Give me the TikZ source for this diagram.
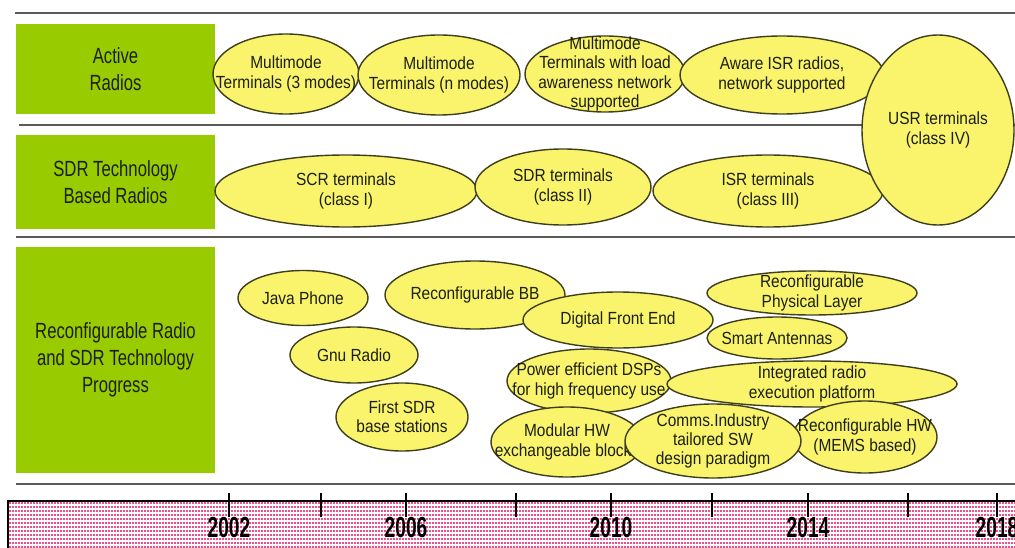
\documentclass[tikz,border=0pt]{standalone}
\usepackage{fontspec}
\setmainfont{Liberation Sans}[FakeStretch=0.88]
\newfontfamily\lanefont{Liberation Sans}[FakeStretch=0.76]
\newfontfamily\yearfont{Liberation Sans}[FakeStretch=0.66]
\usetikzlibrary{shapes.geometric}
\definecolor{rdgreen}{HTML}{99CC00}
\definecolor{rdyellow}{HTML}{F9F46B}
\definecolor{rdedge}{HTML}{3F3F1E}
\definecolor{rdgray}{HTML}{5A5A5A}
\definecolor{rdpink}{HTML}{F04E88}
\definecolor{rdtext}{HTML}{1C1F14}

\begin{document}
\begin{tikzpicture}[
  x=0.2mm, y=-0.2mm,
  lane/.style={rectangle, fill=rdgreen, minimum width=3.98cm, inner sep=0pt,
               align=center, text=rdtext, font=\lanefont\fontsize{12.5}{15.5}\selectfont},
  phase/.style={ellipse, draw=rdedge, line width=0.8pt, fill=rdyellow, inner sep=0pt},
  phasetext/.style={inner sep=0pt, align=center, text=rdtext, font=\fontsize{10}{11}\selectfont},
  divider/.style={draw=rdgray, line width=1.6pt},
  tick/.style={draw=black, line width=0.6pt},
  dotrow/.style={draw=rdpink, line width=0.9pt, dash pattern=on 0.035cm off 0.025cm},
  year/.style={font=\yearfont\bfseries\fontsize{16.5}{18}\selectfont, text=black},
]
  \useasboundingbox (0,0) rectangle (1015,548);

  % Dividers ----------------------------------------------------------------
  \draw[divider] (15,13) -- (1015,13);
  \draw[divider] (19,125) -- (1015,125);
  \draw[divider] (16,237) -- (1015,237);
  \draw[divider] (16,484) -- (1015,484);

  % Lanes -------------------------------------------------------------------
  \node[lane, minimum height=1.8cm] (active) at (115.5,69) {Active\\Radios};
  \node[lane, minimum height=1.88cm] (sdrbased) at (115.5,182) {SDR Technology\\Based Radios};
  \node[lane, minimum height=4.52cm] (progress) at (115.5,360)
    {Reconfigurable Radio\\and SDR Technology\\Progress};

  % Active radios -----------------------------------------------------------
  \node[phase, minimum width=2.92cm, minimum height=1.6cm,
        label={[phasetext]center:Multimode\\Terminals (3 modes)}] (mmthree) at (286,74) {};
  \node[phase, minimum width=3.24cm, minimum height=1.6cm,
        label={[phasetext]center:Multimode\\Terminals (n modes)}] (mmn) at (439,75) {};
  \node[phase, minimum width=3.2cm, minimum height=1.52cm,
        label={[phasetext]center:Multimode\\Terminals with load\\awareness network\\supported}] (mmload) at (605,74) {};
  \node[phase, minimum width=4.08cm, minimum height=1.56cm,
        label={[phasetext]center:Aware ISR radios,\\network supported}] (aware) at (782,75) {};

  % SDR technology based radios ---------------------------------------------
  \node[phase, minimum width=5.24cm, minimum height=1.44cm,
        label={[phasetext]center:SCR terminals\\(class I)}] (scr) at (346,191) {};
  \node[phase, minimum width=4.6cm, minimum height=1.44cm,
        label={[phasetext]center:ISR terminals\\(class III)}] (isr) at (768,191) {};
  \node[phase, minimum width=3.52cm, minimum height=1.52cm,
        label={[phasetext]center:SDR terminals\\(class II)}] (sdr) at (563,187) {};
  \node[phase, minimum width=3.04cm, minimum height=3.8cm,
        label={[phasetext]center:USR terminals\\(class IV)}] (usr) at (938,130) {};

  % Technology progress -----------------------------------------------------
  \node[phase, minimum width=2.6cm, minimum height=1.1cm,
        label={[phasetext]center:Java Phone}] (java) at (303,298) {};
  \node[phase, minimum width=3.6cm, minimum height=1.36cm,
        label={[phasetext]center:Reconfigurable BB}] (recbb) at (475,295) {};
  \node[phase, minimum width=2.56cm, minimum height=1.12cm,
        label={[phasetext]center:Gnu Radio}] (gnu) at (354,355) {};
  \node[phase, minimum width=2.64cm, minimum height=1.36cm,
        label={[phasetext]center:First SDR\\base stations}] (firstsdr) at (402,417) {};
  \node[phase, minimum width=3.8cm, minimum height=1.12cm,
        label={[phasetext]center:Digital Front End}] (dfe) at (618,320) {};
  \node[phase, minimum width=4.2cm, minimum height=0.88cm,
        label={[phasetext]center:Reconfigurable\\Physical Layer}] (recphy) at (812,293) {};
  \node[phase, minimum width=2.8cm, minimum height=0.84cm,
        label={[phasetext]center:Smart Antennas}] (smart) at (777,338) {};
  \node[phase, minimum width=3.28cm, minimum height=1.28cm,
        label={[phasetext]center:Power efficient DSPs\\for high frequency use}] (dsp) at (589,381) {};
  \node[phase, minimum width=5.8cm, minimum height=0.92cm,
        label={[phasetext]center:Integrated radio\\execution platform}] (irep) at (812,384) {};
  \node[phase, minimum width=3.04cm, minimum height=1.4cm,
        label={[phasetext]center:Modular HW\\exchangeable blocks}] (modhw) at (567,442) {};
  \node[phase, minimum width=2.88cm, minimum height=1.44cm,
        label={[phasetext]center:Reconfigurable HW\\(MEMS based)}] (rechw) at (865,437) {};
  \node[phase, minimum width=3.52cm, minimum height=1.48cm,
        label={[phasetext]center:Comms.Industry\\tailored SW\\design paradigm}] (comms) at (713,441) {};

  % Timeline ----------------------------------------------------------------
  \foreach \r in {0,...,11}
    \draw[dotrow] (9,503+4*\r) -- (1015,503+4*\r);
  \draw[black, line width=0.6pt] (8,548) -- (8,501) -- (1015,501);
  \foreach \t in {229,321,406,516,611,712,808,908,997}
    \draw[tick] (\t,493) -- (\t,517);
  \begin{scope}
    \clip (0,488) rectangle (1015,548);
    \foreach \yr/\t in {2002/229,2006/406,2010/611,2014/808,2018/997}
      \node[year] (y\yr) at (\t,528) {\yr};
  \end{scope}
\end{tikzpicture}
\end{document}
